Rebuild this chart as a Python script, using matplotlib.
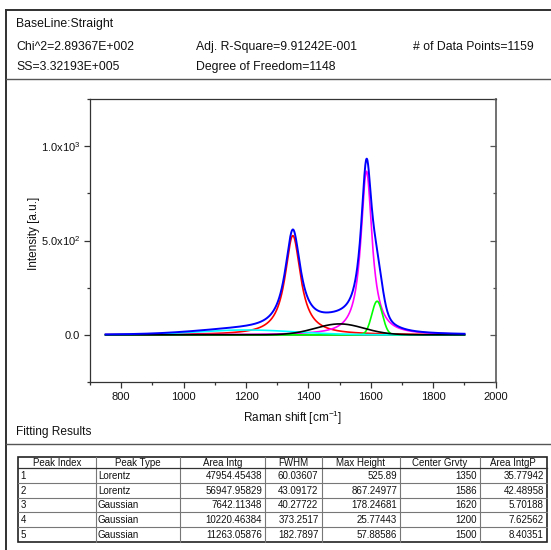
import numpy as np
import matplotlib
matplotlib.use("Agg")
import matplotlib.pyplot as plt
from matplotlib.lines import Line2D
from matplotlib.ticker import FixedLocator, FixedFormatter

plt.rcParams['font.family'] = ['Liberation Sans', 'DejaVu Sans']
plt.rcParams['mathtext.fontset'] = 'custom'
plt.rcParams['mathtext.rm'] = 'Liberation Sans'
plt.rcParams['mathtext.it'] = 'Liberation Sans:italic'
plt.rcParams['mathtext.bf'] = 'Liberation Sans:bold'

# ---------------- data ----------------
peak_index = [1, 2, 3, 4, 5]
peak_type = ["Lorentz", "Lorentz", "Gaussian", "Gaussian", "Gaussian"]
area_intg = ["47954.45438", "56947.95829", "7642.11348", "10220.46384", "11263.05876"]
fwhm = [60.03607, 43.09172, 40.27722, 373.2517, 182.7897]
max_height = [525.89, 867.24977, 178.24681, 25.77443, 57.88586]
center = [1350, 1586, 1620, 1200, 1500]
area_intgp = ["35.77942", "42.48958", "5.70188", "7.62562", "8.40351"]
peak_colors = ["#FF0000", "#FF00FF", "#00FF00", "#00FFFF", "#000000"]

x_start, x_end, n_points = 750, 1900, 1159
baseline_level = 0.0

header_lines = [
    ("BaseLine:Straight", "", ""),
    ("Chi^2=2.89367E+002", "Adj. R-Square=9.91242E-001", "# of Data Points=1159"),
    ("SS=3.32193E+005", "Degree of Freedom=1148", ""),
]
table_headers = ["Peak Index", "Peak Type", "Area Intg", "FWHM", "Max Height",
                 "Center Grvty", "Area IntgP"]

# ---------------- figure ----------------
W, H = 551, 550
fig = plt.figure(figsize=(W / 100, H / 100), dpi=100)

def fx(px):
    return px / W

def fy(py):
    return 1 - py / H

# frame and separators
frame_c = "#303030"
fig.add_artist(Line2D([fx(6), fx(6)], [fy(10), fy(551)], color=frame_c, lw=1.4,
                      transform=fig.transFigure))
fig.add_artist(Line2D([fx(6), fx(552)], [fy(10), fy(10)], color=frame_c, lw=1.4,
                      transform=fig.transFigure))
for sy in (79, 443.5):
    fig.add_artist(Line2D([fx(6), fx(552)], [fy(sy), fy(sy)], color="#555555", lw=1.0,
                          transform=fig.transFigure))

# header texts
hfs = 8.8
col_x = [16, 196, 413]
row_y = [24, 47, 67]
for r, line in enumerate(header_lines):
    for c, txt in enumerate(line):
        if txt:
            fig.text(fx(col_x[c]), fy(row_y[r]), txt, fontsize=hfs, ha="left",
                     va="center", color="#111111")

# ---------------- axes ----------------
ax_l, ax_r, ax_t, ax_b = 90, 495.7, 99, 382
ax = fig.add_axes([fx(ax_l), fy(ax_b), (ax_r - ax_l) / W, (ax_b - ax_t) / H])

x = np.linspace(x_start, x_end, n_points)

def lorentz(xx, c, w, h):
    hw = w / 2.0
    return h * hw ** 2 / ((xx - c) ** 2 + hw ** 2)

def gauss(xx, c, w, h):
    return h * np.exp(-4 * np.log(2) * (xx - c) ** 2 / w ** 2)

curves = []
for t, c, w, h in zip(peak_type, center, fwhm, max_height):
    f = lorentz if t == "Lorentz" else gauss
    curves.append(baseline_level + f(x, c, w, h))

ax.plot(x, np.full_like(x, baseline_level), color="#008000", lw=1.2)
for yv, col in zip(curves, peak_colors):
    ax.plot(x, yv, color=col, lw=1.2)
total = baseline_level + sum(cv - baseline_level for cv in curves)
ax.plot(x, total, color="#0000FF", lw=1.4)

ax.set_xlim(700, 2000)
ax.set_ylim(-250, 1250)
ax.xaxis.set_major_locator(FixedLocator([800, 1000, 1200, 1400, 1600, 1800, 2000]))
ax.xaxis.set_minor_locator(FixedLocator([700, 900, 1100, 1300, 1500, 1700, 1900]))
ax.yaxis.set_major_locator(FixedLocator([0, 500, 1000]))
ax.yaxis.set_major_formatter(FixedFormatter(["0.0", r"5.0x10$^2$", r"1.0x10$^3$"]))
ax.yaxis.set_minor_locator(FixedLocator([-250, 250, 750, 1250]))

spine_c = "#333333"
for s in ax.spines.values():
    s.set_color(spine_c)
    s.set_linewidth(0.9)
ax.spines["right"].set_color("#666666")
ax.spines["right"].set_linewidth(1.3)

ax.tick_params(axis="both", which="major", direction="out", length=4, width=0.9,
               color=spine_c, labelsize=8, labelcolor="#111111", pad=3)
ax.tick_params(axis="both", which="minor", direction="out", length=2.5, width=0.9,
               color=spine_c)
ax.tick_params(axis="y", which="both", right=False)

ax2 = ax.twinx()
ax2.set_ylim(ax.get_ylim())
ax2.yaxis.set_major_locator(FixedLocator([0, 500, 1000]))
ax2.yaxis.set_minor_locator(FixedLocator([-250, 250, 750, 1250]))
ax2.tick_params(axis="y", which="major", direction="in", length=4, width=0.9,
                color="#555555", labelright=False)
ax2.tick_params(axis="y", which="minor", direction="in", length=2.5, width=0.9,
                color="#555555")
for s in ax2.spines.values():
    s.set_visible(False)

fig.text(fx((ax_l + ax_r) / 2), fy(418), r"Raman shift [cm$^{-1}$]", fontsize=8.5,
         ha="center", va="center", color="#111111")
fig.text(fx(34), fy(233), "Intensity [a.u.]", fontsize=8.5,
         ha="center", va="center", rotation=90, color="#111111")

# ---------------- fitting results table ----------------
fig.text(fx(16), fy(432), "Fitting Results", fontsize=8.6, ha="left", va="center",
         color="#111111")

col_edges = [18.3, 95.5, 180, 265, 321.5, 400, 480, 546.7]
t_top, h_bot = 457, 468.3
row_h = 14.7
n_rows = len(peak_index)
t_bot = h_bot + n_rows * row_h

inner_c = "#777777"
for xe in col_edges[1:-1]:
    fig.add_artist(Line2D([fx(xe), fx(xe)], [fy(t_top), fy(t_bot)], color=inner_c,
                          lw=0.8, transform=fig.transFigure))
for i in range(1, n_rows):
    yy = h_bot + i * row_h
    fig.add_artist(Line2D([fx(col_edges[0]), fx(col_edges[-1])], [fy(yy), fy(yy)],
                          color=inner_c, lw=0.8, transform=fig.transFigure))
fig.add_artist(Line2D([fx(col_edges[0]), fx(col_edges[-1])], [fy(h_bot), fy(h_bot)],
                      color="#333333", lw=0.9, transform=fig.transFigure))
fig.add_artist(plt.Rectangle((fx(col_edges[0]), fy(t_bot)),
                             fx(col_edges[-1]) - fx(col_edges[0]),
                             fy(t_top) - fy(t_bot), fill=False, ec="#222222", lw=1.2,
                             transform=fig.transFigure))

tfs = 7.0
for j, hdr in enumerate(table_headers):
    fig.text(fx((col_edges[j] + col_edges[j + 1]) / 2), fy((t_top + h_bot) / 2 + 0.3),
             hdr, fontsize=tfs, ha="center", va="center", color="#111111")

for i in range(n_rows):
    yc = fy(h_bot + (i + 0.5) * row_h + 0.3)
    vals = [str(peak_index[i]), peak_type[i], area_intg[i], str(fwhm[i]),
            str(max_height[i]), str(center[i]), area_intgp[i]]
    for j, v in enumerate(vals):
        if j < 2:
            fig.text(fx(col_edges[j] + 2.5), yc, v, fontsize=tfs, ha="left",
                     va="center", color="#111111")
        else:
            fig.text(fx(col_edges[j + 1] - 3), yc, v, fontsize=tfs, ha="right",
                     va="center", color="#111111")

fig.savefig("out.png", dpi=100)
